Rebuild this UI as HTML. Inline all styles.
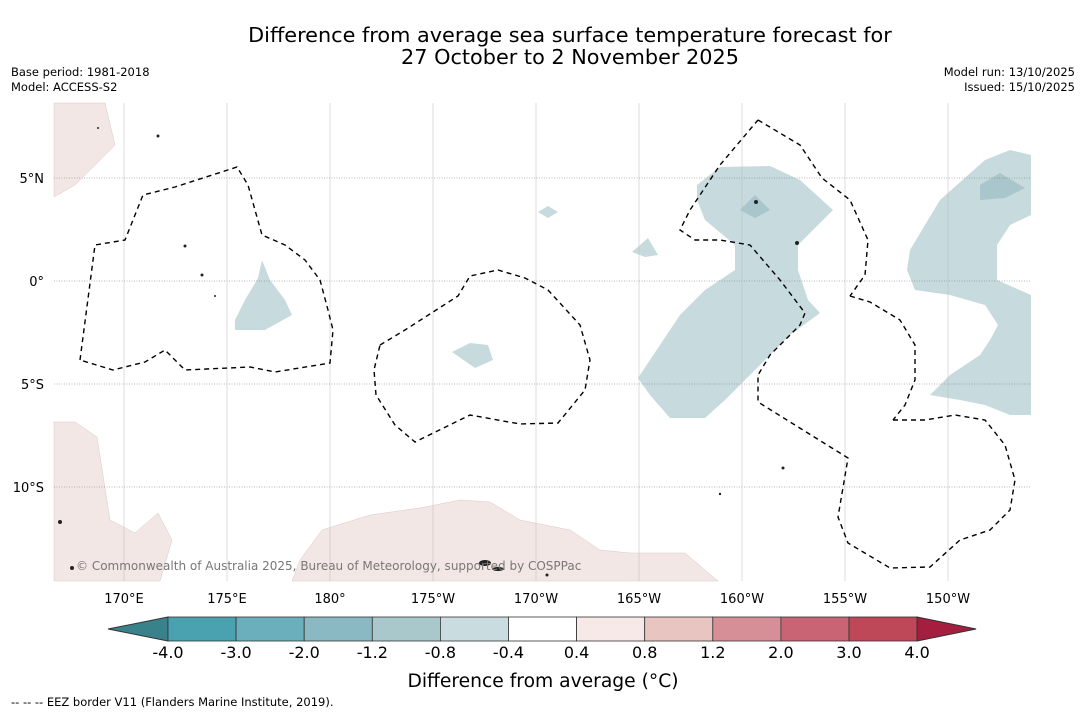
<!DOCTYPE html>
<html><head><meta charset="utf-8">
<style>
body{margin:0;background:#fff;width:1085px;height:713px;overflow:hidden;font-family:"DejaVu Sans","Liberation Sans",sans-serif;}
svg{position:absolute;left:0;top:0}
</style></head><body>
<svg width="1085" height="713" viewBox="0 0 1085 713">
<text x="570" y="42" text-anchor="middle" font-size="20.8">Difference from average sea surface temperature forecast for</text>
<text x="570" y="64" text-anchor="middle" font-size="20.8">27 October to 2 November 2025</text>
<text x="11" y="76" font-size="11.5">Base period: 1981-2018</text>
<text x="11" y="91" font-size="11.5">Model: ACCESS-S2</text>
<text x="1075" y="76" font-size="11.5" text-anchor="end">Model run: 13/10/2025</text>
<text x="1075" y="91" font-size="11.5" text-anchor="end">Issued: 15/10/2025</text>
<g id="map">
<g fill="#f3e7e5" stroke="#d8c8c6" stroke-width="0.5">
<path d="M54,103 L105,103 L115,145 L95,165 L75,185 L54,197Z"/>
<path d="M54,422 L75,422 L97,437 L110,520 L135,533 L158,513 L172,540 L160,581 L54,581Z"/>
<path d="M292,581 L300,560 L322,530 L370,515 L420,508 L460,500 L490,502 L520,520 L570,530 L600,550 L630,553 L685,553 L718,581Z"/>
</g>
<g fill="#c7dadd">
<path d="M697,185 L720,167 L770,166 L800,180 L833,210 L798,245 L798,270 L808,300 L820,313 L790,335 L755,370 L725,400 L705,418 L670,418 L650,395 L638,378 L660,345 L680,315 L705,290 L735,270 L735,245 L705,220 L697,200Z"/>
<path d="M910,250 L940,200 L985,160 L1010,150 L1031,155 L1031,215 L1010,225 L997,245 L997,280 L1031,295 L1031,415 L1010,415 L985,405 L960,400 L930,395 L950,375 L980,355 L990,340 L998,325 L985,305 L950,295 L915,290 L907,270Z"/>
<path d="M235,320 L245,300 L258,278 L262,260 L270,280 L285,300 L292,315 L265,330 L235,330Z"/>
<path d="M452,352 L470,343 L488,345 L493,360 L475,368Z"/>
<path d="M538,212 L548,206 L558,212 L548,218Z"/>
<path d="M632,252 L648,238 L658,255 L645,257Z"/>
</g>
<g fill="#a8c6cb">
<path d="M740,210 L755,195 L770,210 L755,218Z"/>
<path d="M980,185 L1000,173 L1025,188 L1005,198 L980,200Z"/>
</g>
<g stroke="#bbb" stroke-width="0.5" id="lonlines"></g>
<g stroke="#777" stroke-width="0.6" stroke-dasharray="1,1.5" id="latlines"></g>
<g fill="none" stroke="#000" stroke-width="1.4" stroke-dasharray="5,4">
<path d="M80,360 L95,245 L125,240 L143,195 L175,187 L237,167 L248,185 L262,235 L285,245 L305,260 L320,280 L328,310 L333,330 L330,363 L275,372 L250,367 L185,370 L165,350 L145,362 L113,370 Z"/>
<path d="M380,345 L405,330 L458,296 L470,276 L498,270 L525,278 L548,290 L580,325 L590,360 L585,390 L558,423 L520,424 L470,415 L415,442 L395,425 L376,395 L374,370Z"/>
<path d="M850,296 L870,302 L900,320 L915,345 L915,380 L905,405 L893,420"/>
<path d="M758,120 L800,145 L822,178 L850,200 L868,240 L865,275 L850,296"/>
<path d="M893,420 L925,420 L955,415 L985,420 L1005,445 L1015,480 L1010,510 L990,530 L960,540 L930,567 L890,568 L848,543 L838,517 L848,458 L758,402 L758,375 L770,355 L800,325 L805,313 L780,280 L750,245 L720,240 L695,240 L680,230 L690,210 L720,165 L758,120"/>
</g>
<g fill="#222">
<ellipse cx="485" cy="563" rx="6" ry="3"/><ellipse cx="498" cy="569" rx="6" ry="2"/><circle cx="72" cy="568" r="2"/><circle cx="60" cy="522" r="2"/><circle cx="756" cy="202" r="2"/><circle cx="797" cy="243" r="2"/><circle cx="185" cy="246" r="1.5"/><circle cx="202" cy="275" r="1.5"/><circle cx="215" cy="296" r="1"/><circle cx="783" cy="468" r="1.5"/><circle cx="720" cy="494" r="1.2"/><circle cx="547" cy="575" r="1.5"/><circle cx="158" cy="136" r="1.5"/><circle cx="98" cy="128" r="1"/>
</g>
<text x="76" y="570" font-size="12" fill="#777">© Commonwealth of Australia 2025, Bureau of Meteorology, supported by COSPPac</text>
</g>
<g id="axislabels" font-size="13"></g>
<g id="cbar"></g>
<text x="543" y="687" text-anchor="middle" font-size="18.7">Difference from average (°C)</text>
<text x="11" y="706" font-size="11.5">-- -- -- EEZ border V11 (Flanders Marine Institute, 2019).</text>
</svg>
<script>
const lonTicks=[170,175,180,185,190,195,200,205,210];
const lonLabels=["170°E","175°E","180°","175°W","170°W","165°W","160°W","155°W","150°W"];
const latTicks=[5,0,-5,-10];
const latLabels=["5°N","0°","5°S","10°S"];
const cbarBounds=[-4.0,-3.0,-2.0,-1.2,-0.8,-0.4,0.4,0.8,1.2,2.0,3.0,4.0];
const cbarColors=["#4aa2b1","#6aafbb","#8ab9c4","#a9c8cc","#c9dcdf","#ffffff","#f6e9e7","#e8c5c1","#d68f96","#c96474","#be4858"];
const cbarLow="#3a828b", cbarHigh="#a51d3f";
const NS="http://www.w3.org/2000/svg";
function X(lon){return 330+(lon-180)*20.6;}
function Y(lat){return 281-lat*20.6;}
function el(t,a,p){const e=document.createElementNS(NS,t);for(const k in a)e.setAttribute(k,a[k]);p.appendChild(e);return e;}
const lonG=document.getElementById('lonlines'),latG=document.getElementById('latlines'),ax=document.getElementById('axislabels');
lonTicks.forEach((l,i)=>{const x=X(l);
const ln=el('line',{x1:x,x2:x,y1:103,y2:581},lonG);


const t=el('text',{x:x,y:603,'text-anchor':'middle'},ax);t.textContent=lonLabels[i];

});
latTicks.forEach((l,i)=>{const y=Y(l);
const ln=el('line',{x1:54,x2:1031,y1:y,y2:y},latG);


const t=el('text',{x:44,y:y+5,'text-anchor':'end'},ax);t.textContent=latLabels[i];

});
const cb=document.getElementById('cbar');const x0=168,w=68.1,y0=617,h=24;
function CX(i){return x0+i*w;}
const lt=el('polygon',{points:`${x0},${y0} ${x0},${y0+h} 108,${y0+h/2}`,fill:cbarLow,stroke:'#333','stroke-width':1},cb);


cbarColors.forEach((c,i)=>{const r=el('rect',{x:CX(i),y:y0,width:w,height:h,fill:c,stroke:'#333','stroke-width':0.8},cb);

});
const xe=CX(cbarColors.length);
const rt=el('polygon',{points:`${xe},${y0} ${xe},${y0+h} ${xe+59},${y0+h/2}`,fill:cbarHigh,stroke:'#333','stroke-width':1},cb);


cbarBounds.forEach((b,i)=>{const t=el('text',{x:CX(i),y:658,'text-anchor':'middle','font-size':16},cb);t.textContent=b.toFixed(1);

});
</script>
</body></html>
